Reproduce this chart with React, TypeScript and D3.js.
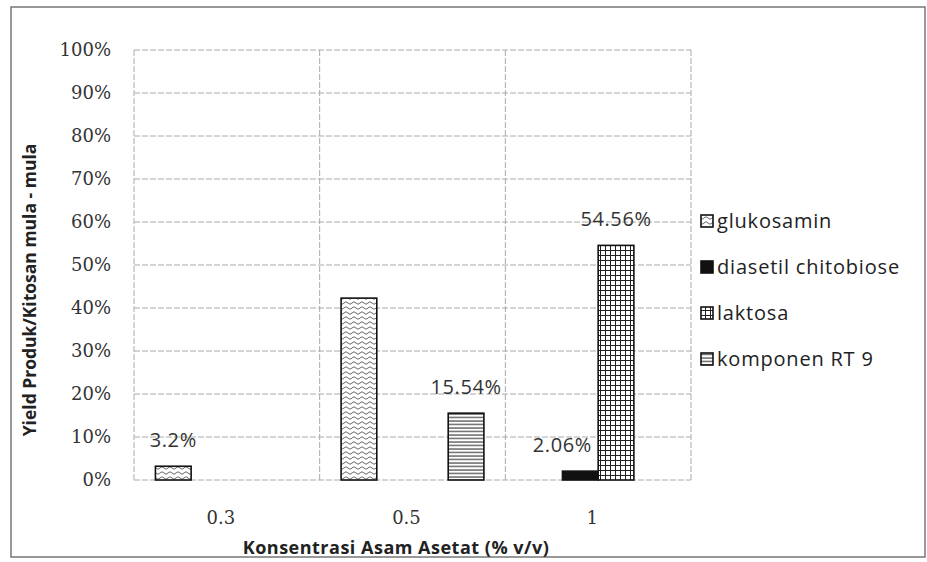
import React from "react";
import * as d3 from "d3";

const categories = ["0.3", "0.5", "1"];
const seriesNames = ["glukosamin", "diasetil chitobiose", "laktosa", "komponen RT 9"];
// values in % per series, per category
const glukosamin = [3.2, 42.3, 0];
const diasetil = [0, 0, 2.06];
const laktosa = [0, 0, 54.56];
const komponen = [0, 15.54, 0];
const labels = [
  ["3.2%", "", ""],
  ["", "", "2.06%"],
  ["", "", "54.56%"],
  ["", "15.54%", ""],
];
const yTicks = [0, 10, 20, 30, 40, 50, 60, 70, 80, 90, 100];
const yTitle = "Yield Produk/Kitosan mula - mula";
const xTitle = "Konsentrasi Asam Asetat (% v/v)";

const seriesValues = [glukosamin, diasetil, laktosa, komponen];
const fills = ["url(#pWave)", "#111", "url(#pGrid)", "url(#pHoriz)"];

export default function App() {
  const W = 927, H = 562;
  const left = 134, right = 691, top = 50, bottom = 480;
  const x0 = d3.scaleBand().domain(categories).range([left, right]).padding(0);
  const x1 = d3
    .scaleBand()
    .domain(seriesNames)
    .range([0, x0.bandwidth()])
    .paddingInner(0)
    .paddingOuter(0.6);
  const y = d3.scaleLinear().domain([0, 100]).range([bottom, top]);
  const sans = "'Open Sans', sans-serif";
  const serif = "'DejaVu Serif', serif";
  const labelShift: Record<string, number> = { "2.06%": -18 };

  return (
    <svg
      width={W}
      height={H}
      style={{ position: "absolute", left: 0, top: 0, background: "#fff" }}
    >
      <defs>
        <pattern id="pWave" width="8" height="5" patternUnits="userSpaceOnUse">
          <rect width="8" height="5" fill="#fff" />
          <path d="M0,3 Q2,0.5 4,3 T8,3" fill="none" stroke="#555" strokeWidth="0.9" />
        </pattern>
        <pattern id="pGrid" width="5" height="5" patternUnits="userSpaceOnUse">
          <rect width="5" height="5" fill="#fff" />
          <path d="M0,0.5 H5 M0.5,0 V5" fill="none" stroke="#222" strokeWidth="1" />
        </pattern>
        <pattern id="pHoriz" width="4" height="3.5" patternUnits="userSpaceOnUse">
          <rect width="4" height="3.5" fill="#fff" />
          <path d="M0,1 H4" fill="none" stroke="#444" strokeWidth="1.2" />
        </pattern>
      </defs>

      {/* outer border */}
      <rect x={11} y={7} width={914} height={550} fill="none" stroke="#777" strokeWidth={1.5} />

      {/* horizontal gridlines */}
      {yTicks.map((t) => (
        <line
          key={"g" + t}
          x1={left}
          x2={right}
          y1={y(t)}
          y2={y(t)}
          stroke="#aaa"
          strokeWidth={1}
          strokeDasharray="6 2"
        />
      ))}
      {/* vertical gridlines at category boundaries */}
      {[left, ...categories.map((c) => (x0(c) as number) + x0.bandwidth())].map((xv, i) => (
        <line
          key={"v" + i}
          x1={xv}
          x2={xv}
          y1={top}
          y2={bottom}
          stroke="#aaa"
          strokeWidth={1}
          strokeDasharray="6 2"
        />
      ))}

      {/* y tick labels */}
      {yTicks.map((t) => (
        <text
          key={"yt" + t}
          x={111}
          y={y(t)}
          dy="0.35em"
          textAnchor="end"
          fontFamily={serif}
          fontSize={18}
          fill="#333"
        >
          {t}%
        </text>
      ))}

      {/* bars */}
      {seriesValues.map((vals, si) =>
        categories.map((c, ci) => {
          const v = vals[ci];
          if (!v) return null;
          const bx = (x0(c) as number) + (x1(seriesNames[si]) as number);
          return (
            <rect
              key={`b${si}-${ci}`}
              x={bx}
              y={y(v)}
              width={x1.bandwidth()}
              height={y(0) - y(v)}
              fill={fills[si]}
              stroke="#111"
              strokeWidth={1.6}
            />
          );
        })
      )}

      {/* data labels */}
      {seriesValues.map((vals, si) =>
        categories.map((c, ci) => {
          const lab = labels[si][ci];
          if (!lab) return null;
          const bx =
            (x0(c) as number) + (x1(seriesNames[si]) as number) + x1.bandwidth() / 2;
          return (
            <text
              key={`l${si}-${ci}`}
              x={bx + (labelShift[lab] || 0)}
              y={y(vals[ci]) - 19}
              textAnchor="middle"
              fontFamily={sans}
              fontSize={20}
              letterSpacing={0.6}
              fill="#333"
            >
              {lab}
            </text>
          );
        })
      )}

      {/* x tick labels */}
      {categories.map((c) => (
        <text
          key={"xt" + c}
          x={(x0(c) as number) + x0.bandwidth() / 2 - 6}
          y={524}
          textAnchor="middle"
          fontFamily={serif}
          fontSize={18}
          fill="#333"
        >
          {c}
        </text>
      ))}

      {/* axis titles */}
      <text
        x={396}
        y={554}
        textAnchor="middle"
        fontFamily={sans}
        fontWeight="bold"
        fontSize={18}
        letterSpacing={0.5}
        fill="#222"
      >
        {xTitle}
      </text>
      <text
        transform={`translate(36,290) rotate(-90)`}
        textAnchor="middle"
        fontFamily={sans}
        fontWeight="bold"
        fontSize={17.5}
        fill="#222"
      >
        {yTitle}
      </text>

      {/* legend */}
      {seriesNames.map((n, i) => {
        const ly = 221 + i * 46;
        return (
          <g key={"lg" + i}>
            <rect
              x={701}
              y={ly - 6}
              width={12}
              height={12}
              fill={fills[i]}
              stroke="#111"
              strokeWidth={1.6}
            />
            <text
              x={717}
              y={ly}
              dy="0.35em"
              fontFamily={sans}
              fontSize={20}
              letterSpacing={0.8}
              fill="#222"
            >
              {n}
            </text>
          </g>
        );
      })}
    </svg>
  );
}
